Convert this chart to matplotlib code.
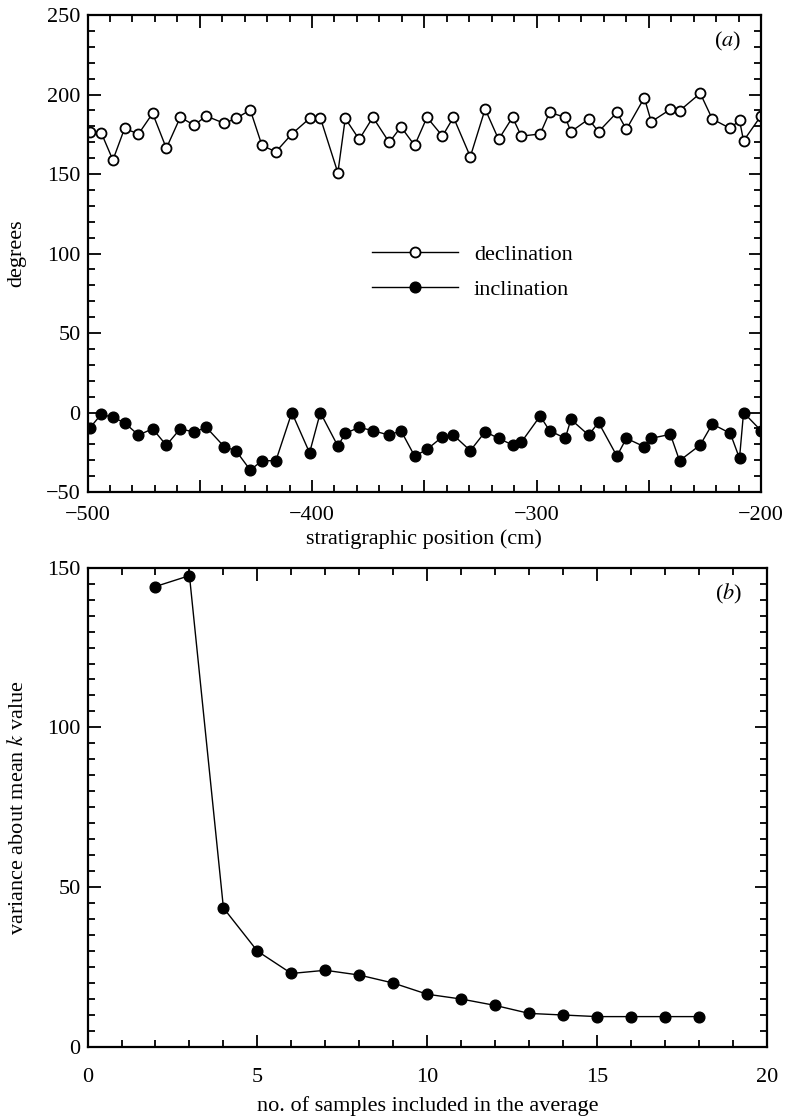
import matplotlib
matplotlib.use("Agg")
import matplotlib.pyplot as plt
from matplotlib.ticker import MultipleLocator, FuncFormatter

plt.rcParams['font.family'] = ['Liberation Serif', 'DejaVu Serif']
plt.rcParams['mathtext.fontset'] = 'stix'
plt.rcParams['font.size'] = 16
plt.rcParams['axes.unicode_minus'] = True

# panel (a): palaeomagnetic directions vs stratigraphic position
position = [-499.1, -493.9, -488.7, -483.5, -477.3, -471.0, -464.9, -458.7, -452.5, -447.1,
            -439.1, -433.9, -427.5, -422.3, -416.1, -409.0, -401.1, -396.3, -388.5, -385.2,
            -379.0, -372.9, -365.6, -360.4, -354.3, -348.8, -341.9, -337.0, -329.5, -322.9,
            -316.9, -310.7, -306.8, -298.4, -294.2, -287.2, -284.7, -276.8, -272.4, -264.2,
            -260.0, -252.0, -248.9, -240.4, -236.3, -227.1, -221.7, -213.7, -209.6, -207.8,
            -200.0]
declination = [176.6, 176.0, 158.8, 178.7, 175.2, 188.2, 166.2, 185.7, 180.8, 186.5,
               181.9, 185.0, 190.3, 168.0, 164.0, 175.2, 185.0, 185.4, 150.8, 185.0,
               171.8, 185.7, 169.9, 179.7, 168.0, 185.7, 173.9, 185.7, 160.9, 190.9,
               171.8, 185.7, 173.9, 175.2, 188.8, 185.7, 176.6, 184.6, 176.6, 188.8,
               178.1, 198.0, 182.9, 190.7, 189.8, 200.8, 184.6, 178.7, 184.0, 170.9,
               186.7]
inclination = [-9.9, -1.1, -3.0, -6.4, -14.2, -10.2, -20.6, -10.2, -12.3, -9.3,
               -21.5, -24.0, -36.2, -30.3, -30.3, 0.0, -25.3, 0.0, -21.1, -13.1,
               -9.3, -11.4, -14.2, -11.4, -27.4, -23.2, -15.2, -14.2, -24.0, -12.1,
               -16.2, -20.4, -18.7, -2.2, -11.4, -16.2, -4.3, -14.2, -6.2, -27.4,
               -16.2, -21.5, -16.2, -13.7, -30.3, -20.4, -7.2, -13.1, -28.8, 0.0,
               -11.4]

# panel (b): variance of k against number of samples averaged
n_samples = [2, 3, 4, 5, 6, 7, 8, 9, 10, 11, 12, 13, 14, 15, 16, 17, 18]
variance = [144.1, 147.5, 43.5, 30.0, 23.0, 24.0, 22.5, 20.0, 16.5, 15.0,
            13.0, 10.5, 10.0, 9.5, 9.5, 9.5, 9.5]

fig = plt.figure(figsize=(7.85, 11.17), dpi=100)
ax1 = fig.add_axes([0.1115, 0.5595, 0.858, 0.427])
ax2 = fig.add_axes([0.1115, 0.0627, 0.8656, 0.4291])


def style_axes(ax, xpad):
    for s in ax.spines.values():
        s.set_linewidth(1.6)
    ax.tick_params(which='both', direction='in', top=True, right=True, width=1.3)
    ax.tick_params(which='major', length=9)
    ax.tick_params(which='minor', length=5)
    ax.tick_params(axis='x', pad=xpad)
    ax.tick_params(axis='y', pad=5)


ax1.plot(position, declination, color='black', lw=1.0, marker='o', ms=7.2,
         mfc='white', mec='black', mew=1.3, label='declination')
ax1.plot(position, inclination, color='black', lw=1.0, marker='o', ms=7.7,
         mfc='black', mec='black', label='inclination')
ax1.set_xlim(-500, -200)
ax1.set_ylim(-50, 250)
ax1.xaxis.set_major_locator(MultipleLocator(50))
ax1.xaxis.set_minor_locator(MultipleLocator(10))
ax1.xaxis.set_major_formatter(FuncFormatter(
    lambda v, p: ('\u2212%d' % abs(v) if v < 0 else '%d' % v) if round(v) % 100 == 0 else ''))
ax1.yaxis.set_major_locator(MultipleLocator(50))
ax1.yaxis.set_minor_locator(MultipleLocator(10))
ax1.set_xlabel('stratigraphic position (cm)', labelpad=3)
ax1.set_ylabel('degrees')
ax1.yaxis.set_label_coords(-0.091, 0.5)
ax1.text(0.95, 0.944, '($\\mathit{a}$)', transform=ax1.transAxes, ha='center', va='center')
leg = ax1.legend(loc='center left', bbox_to_anchor=(0.422, 0.461), frameon=False,
                 handlelength=3.9, handletextpad=0.7, labelspacing=0.68,
                 borderpad=0, borderaxespad=0)
style_axes(ax1, 10)

ax2.plot(n_samples, variance, color='black', lw=1.0, marker='o', ms=7.7,
         mfc='black', mec='black')
ax2.set_xlim(0, 20)
ax2.set_ylim(0, 150)
ax2.xaxis.set_major_locator(MultipleLocator(5))
ax2.xaxis.set_minor_locator(MultipleLocator(1))
ax2.yaxis.set_major_locator(MultipleLocator(50))
ax2.yaxis.set_minor_locator(MultipleLocator(5))
ax2.set_xlabel('no. of samples included in the average', labelpad=7)
ax2.set_ylabel('variance about mean $k$ value')
ax2.yaxis.set_label_coords(-0.088, 0.5)
ax2.text(0.944, 0.946, '($\\mathit{b}$)', transform=ax2.transAxes, ha='center', va='center')
style_axes(ax2, 15)

fig.savefig('out.png', dpi=100)
